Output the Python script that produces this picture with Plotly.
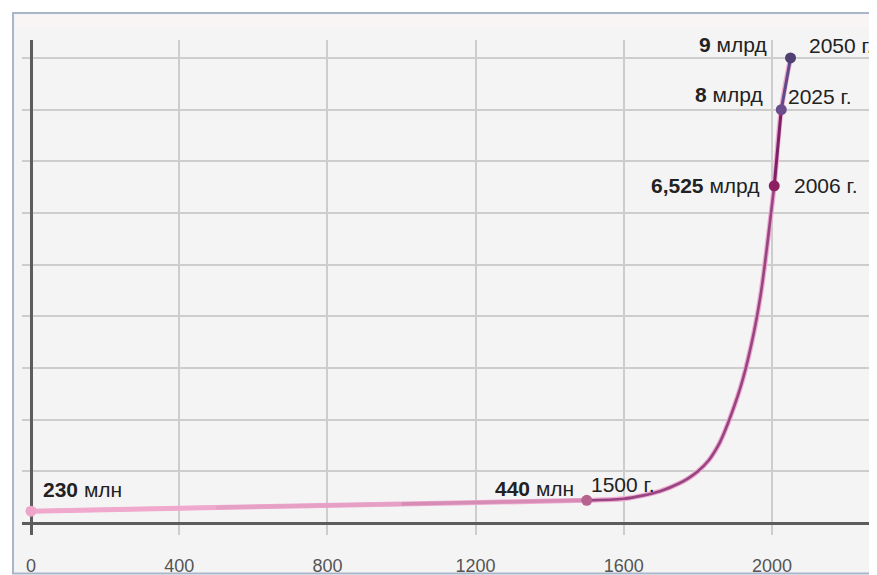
import plotly.graph_objects as go

# ---- data ----
curve_years = [0, 500, 1000, 1500, 1600, 1650, 1700, 1750, 1775, 1800, 1830, 1845, 1860, 1890, 1920, 1950, 1970, 1990, 2006, 2025, 2050]
curve_values = [0.23, 0.30, 0.37, 0.44, 0.47, 0.53, 0.62, 0.77, 0.87, 1.0, 1.22, 1.38, 1.57, 2.1, 2.75, 3.65, 4.45, 5.55, 6.525, 8, 9]

key_years = [0, 1500, 2006, 2025, 2050]
key_values = [0.23, 0.44, 6.525, 8, 9]
key_amounts = ["<b>230</b> млн", "<b>440</b> млн", "<b>6,525</b> млрд", "<b>8</b> млрд", "<b>9</b> млрд"]
key_year_labels = ["", "1500 г.", "2006 г.", "2025 г.", "2050 г."]
key_colors = ["#eda5ca", "#b5628f", "#8c1f62", "#6b4d8c", "#513e72"]

x_ticks = [0, 400, 800, 1200, 1600, 2000]

fig = go.Figure()

# pink glow under the whole curve
fig.add_trace(go.Scatter(x=curve_years, y=curve_values, mode="lines",
                         line=dict(color="#eeaacf", width=5, shape="spline", smoothing=1.0),
                         hoverinfo="skip", showlegend=False))

# coloured core segments (early, nearly straight part)
segments = [
    (0, 1, "#f0a9cd", 4),
    (1, 2, "#e6a0c6", 4),
    (2, 3, "#d68cb5", 3.5),
]
for i0, i1, col, w in segments:
    fig.add_trace(go.Scatter(x=curve_years[i0:i1 + 1], y=curve_values[i0:i1 + 1], mode="lines",
                             line=dict(color=col, width=w), hoverinfo="skip", showlegend=False))

i1500 = curve_years.index(1500)
i2006 = curve_years.index(2006)
i2025 = curve_years.index(2025)
fig.add_trace(go.Scatter(x=curve_years[i1500:i2006 + 1], y=curve_values[i1500:i2006 + 1], mode="lines",
                         line=dict(color="#974482", width=2.6, shape="spline", smoothing=1.0),
                         hoverinfo="skip", showlegend=False))
fig.add_trace(go.Scatter(x=curve_years[i2006:i2025 + 1], y=curve_values[i2006:i2025 + 1], mode="lines",
                         line=dict(color="#7c2068", width=3),
                         hoverinfo="skip", showlegend=False))
fig.add_trace(go.Scatter(x=curve_years[i2025:], y=curve_values[i2025:], mode="lines",
                         line=dict(color="#5e4a86", width=3),
                         hoverinfo="skip", showlegend=False))

# key points
fig.add_trace(go.Scatter(x=key_years, y=key_values, mode="markers",
                         marker=dict(color=key_colors, size=11),
                         hoverinfo="skip", showlegend=False))

# labels
label_font = dict(family="Arial, Liberation Sans, sans-serif", size=21, color="#222222")
amount_offsets = [(10, 22, "left"), (-11, 12, "right"), (-12, 0, "right"), (-16, 15, "right"), (-22, 13, "right")]
year_offsets = [(0, 0, "left"), (2, 16, "left"), (18, 0, "left"), (5, 13, "left"), (16, 12, "left")]
for k in range(len(key_years)):
    dx, dy, anc = amount_offsets[k]
    fig.add_annotation(x=key_years[k], y=key_values[k], text=key_amounts[k], showarrow=False,
                       xanchor=anc, yanchor="middle", xshift=dx, yshift=dy, font=label_font)
    if key_year_labels[k]:
        dx, dy, anc = year_offsets[k]
        fig.add_annotation(x=key_years[k], y=key_values[k], text=key_year_labels[k], showarrow=False,
                           xanchor=anc, yanchor="middle", xshift=dx, yshift=dy, font=label_font)

# frame behind the plot
fig.add_shape(type="rect", xref="paper", yref="paper", x0=-0.0105, x1=1.02, y0=-0.078, y1=1.0545,
              fillcolor="#f4f4f4", line=dict(color="#a9b5c8", width=2), layer="below")
fig.add_shape(type="rect", xref="paper", yref="paper", x0=-0.008, x1=1.02, y0=1.026, y1=1.051,
              fillcolor="#faf5f5", line=dict(width=0), layer="below")

# the page adds an 8px body margin, so the figure is 8px smaller and shifted accordingly
fig.update_layout(
    width=869, height=567,
    margin=dict(l=14, r=0, t=32, b=40),
    paper_bgcolor="white",
    plot_bgcolor="rgba(0,0,0,0)",
    showlegend=False,
    xaxis=dict(range=[-24.3, 2283.4], tickmode="array", tickvals=x_ticks,
               ticktext=[str(t) for t in x_ticks],
               showgrid=True, gridcolor="#cdcdcd", gridwidth=1.5,
               zeroline=True, zerolinecolor="#5c5c5c", zerolinewidth=3,
               showline=False, ticks="outside", ticklen=14, tickcolor="rgba(0,0,0,0)",
               tickfont=dict(family="Arial, Liberation Sans, sans-serif", size=18, color="#555555"),
               fixedrange=True),
    yaxis=dict(range=[-0.232, 9.348], dtick=1, tick0=0, showticklabels=False,
               showgrid=True, gridcolor="#cdcdcd", gridwidth=1.5,
               zeroline=True, zerolinecolor="#5c5c5c", zerolinewidth=2.5,
               showline=False, ticks="", fixedrange=True),
)

fig.write_html("out.html")
